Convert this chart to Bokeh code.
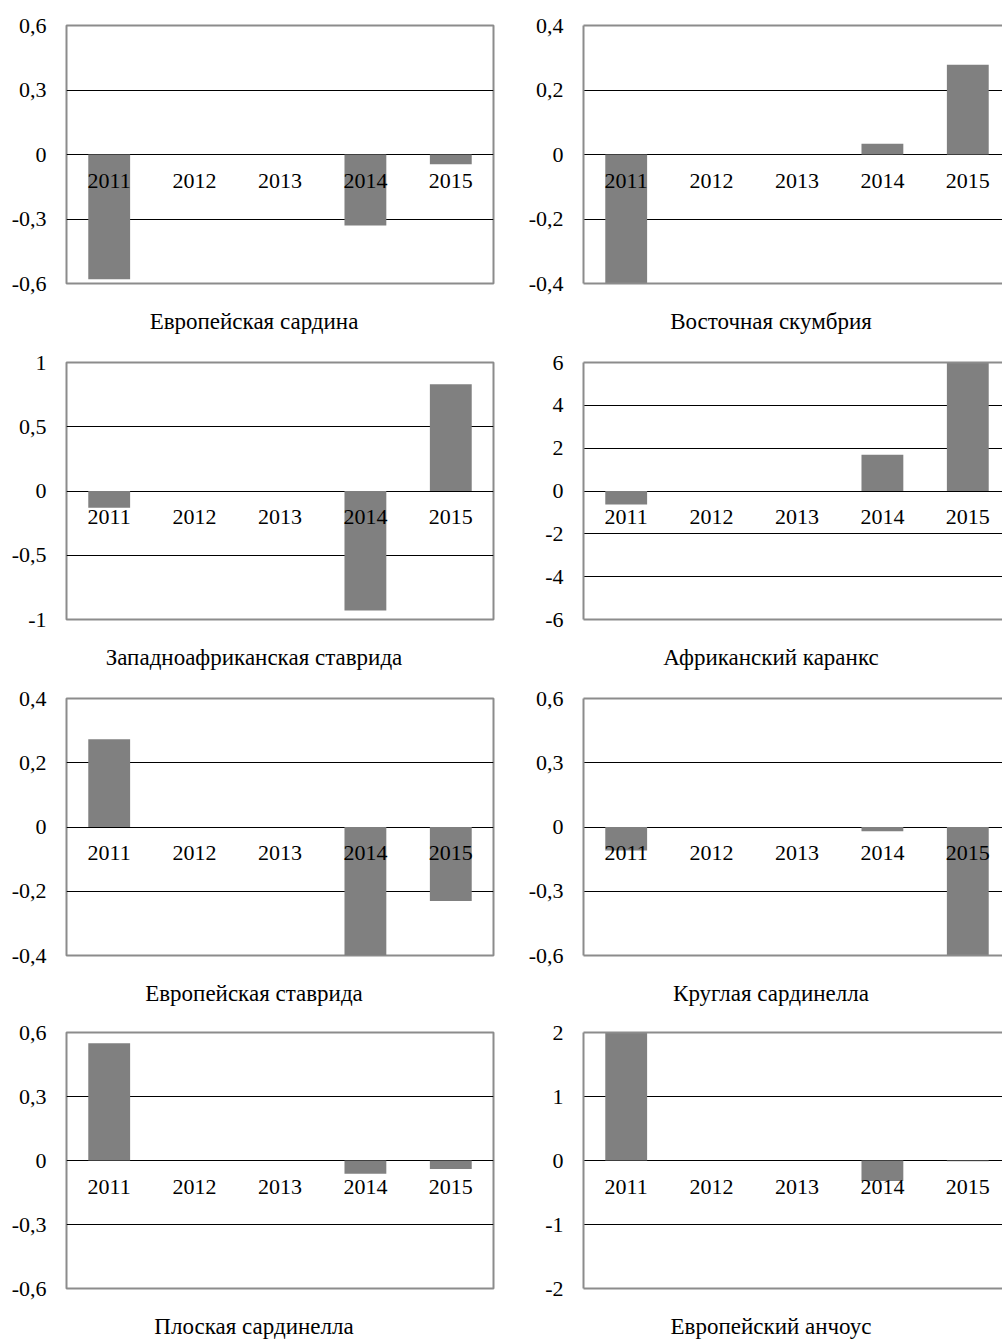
from bokeh.plotting import figure
from bokeh.layouts import column, row
from bokeh.models import Range1d, FixedTicker, LinearAxis, Div
from bokeh.core.properties import value
from bokeh.embed import file_html
from bokeh.resources import INLINE

# ---------------- data ----------------
years = ["2011", "2012", "2013", "2014", "2015"]

titles = [
    "Европейская сардина", "Восточная скумбрия",
    "Западноафриканская ставрида", "Африканский каранкс",
    "Европейская ставрида", "Круглая сардинелла",
    "Плоская сардинелла", "Европейский анчоус",
]

sardina_europe = [-0.58, 0, 0, -0.33, -0.045]
skumbria_east = [-0.4, 0, 0, 0.033, 0.278]
stavrida_west_africa = [-0.13, 0, 0, -0.93, 0.83]
karanks_africa = [-0.63, 0, 0, 1.69, 6.0]
stavrida_europe = [0.273, 0, 0, -0.4, -0.23]
sardinella_round = [-0.11, 0, 0, -0.02, -0.6]
sardinella_flat = [0.55, 0, 0, -0.062, -0.04]
anchovy_europe = [2.0, 0, 0, -0.32, -0.01]

ticks_06 = [-0.6, -0.3, 0, 0.3, 0.6]
labels_06 = ["-0,6", "-0,3", "0", "0,3", "0,6"]
ticks_04 = [-0.4, -0.2, 0, 0.2, 0.4]
labels_04 = ["-0,4", "-0,2", "0", "0,2", "0,4"]
ticks_1 = [-1, -0.5, 0, 0.5, 1]
labels_1 = ["-1", "-0,5", "0", "0,5", "1"]
ticks_6 = [-6, -4, -2, 0, 2, 4, 6]
labels_6 = ["-6", "-4", "-2", "0", "2", "4", "6"]
ticks_2 = [-2, -1, 0, 1, 2]
labels_2 = ["-2", "-1", "0", "1", "2"]

series = [sardina_europe, skumbria_east, stavrida_west_africa, karanks_africa,
          stavrida_europe, sardinella_round, sardinella_flat, anchovy_europe]
tick_sets = [(ticks_06, labels_06), (ticks_04, labels_04), (ticks_1, labels_1),
             (ticks_6, labels_6), (ticks_04, labels_04), (ticks_06, labels_06),
             (ticks_06, labels_06), (ticks_2, labels_2)]

# ---------------- layout ----------------
FONT = "Liberation Serif"
FS = "22px"
TITLE_FS = "23px"
BORDER = "#8c8c8c"
BAR = "#808080"
PX_PER_CAT = 85.4
LEFT_W, RIGHT_W = 518, 484
LEFT_FRAME_W, RIGHT_FRAME_W = 427, 419
ROW_H = [345, 336, 334, 324]
ROW_TOP = [25, 17, 17, 17]
FRAME_H = [258, 257, 257, 256]
BOTTOM = 14
TITLE_GAP = 47      # frame bottom -> title baseline
BASELINE_IN_DIV = 20


def make_panel(idx):
    vals = series[idx]
    ticks, tlabels = tick_sets[idx]
    right = idx % 2 == 1
    r = idx // 2
    top, fh = ROW_TOP[r], FRAME_H[r]
    fig_h = top + fh + BOTTOM
    ymin, ymax = ticks[0], ticks[-1]
    if right:
        w, fw, mbl, mbr = RIGHT_W, RIGHT_FRAME_W, 65, 0
    else:
        w, fw, mbl, mbr = LEFT_W, LEFT_FRAME_W, 66, 25
    x_end = -0.5 + fw / PX_PER_CAT
    p = figure(width=w, height=fig_h, output_backend="svg", toolbar_location=None,
               x_range=Range1d(-0.5, x_end), y_range=Range1d(ymin, ymax),
               x_axis_location=None, min_border_left=mbl, min_border_right=mbr,
               min_border_top=top, min_border_bottom=BOTTOM)
    p.background_fill_color = "white"
    p.border_fill_color = "white"
    p.xgrid.visible = False
    p.ygrid.ticker = FixedTicker(ticks=ticks[1:-1])
    p.ygrid.grid_line_color = "black"
    p.ygrid.grid_line_width = 1

    ax = p.yaxis[0]
    ax.ticker = FixedTicker(ticks=ticks)
    ax.major_label_overrides = {t: l for t, l in zip(ticks, tlabels)}
    ax.major_tick_line_color = None
    ax.minor_tick_line_color = None
    ax.major_tick_out = 0
    ax.major_tick_in = 0
    ax.major_label_standoff = 20
    ax.major_label_text_font = FONT
    ax.major_label_text_font_size = FS
    ax.major_label_text_color = "black"

    if right:
        p.outline_line_color = None
        ax.axis_line_color = BORDER
        ax.axis_line_width = 2
        for side in ("above", "below"):
            a = LinearAxis(ticker=FixedTicker(ticks=[]), axis_line_color=BORDER,
                           axis_line_width=2, major_tick_line_color=None,
                           minor_tick_line_color=None, major_label_text_font_size="0px")
            p.add_layout(a, side)
    else:
        ax.axis_line_color = None
        p.outline_line_color = BORDER
        p.outline_line_width = 2

    xs = list(range(len(years)))
    p.vbar(x=xs, top=vals, bottom=0, width=0.49, fill_color=BAR, line_color=None)
    p.text(x=xs, y=[0] * len(years), text=years, text_font=value(FONT),
           text_font_size=FS, text_align="center", text_baseline="alphabetic",
           y_offset=26, text_color="black")

    # title under the panel
    m_top = TITLE_GAP - BOTTOM - BASELINE_IN_DIV
    div_h = ROW_H[r] - fig_h - m_top
    if right:
        ml, dw = 22, 462
    else:
        ml, dw = 0, 508
    d = Div(text=titles[idx], width=dw, height=div_h, margin=(m_top, 0, 0, ml),
            styles={"font-family": FONT, "font-size": TITLE_FS, "line-height": "24px",
                    "text-align": "center", "color": "black", "overflow": "hidden",
                    "white-space": "nowrap"})
    return column(p, d, spacing=0)


cells = [make_panel(i) for i in range(8)]
layout = column(*[row(cells[2 * k], cells[2 * k + 1], spacing=0) for k in range(4)],
                spacing=0)

open("out.html", "w").write(file_html(layout, INLINE))
